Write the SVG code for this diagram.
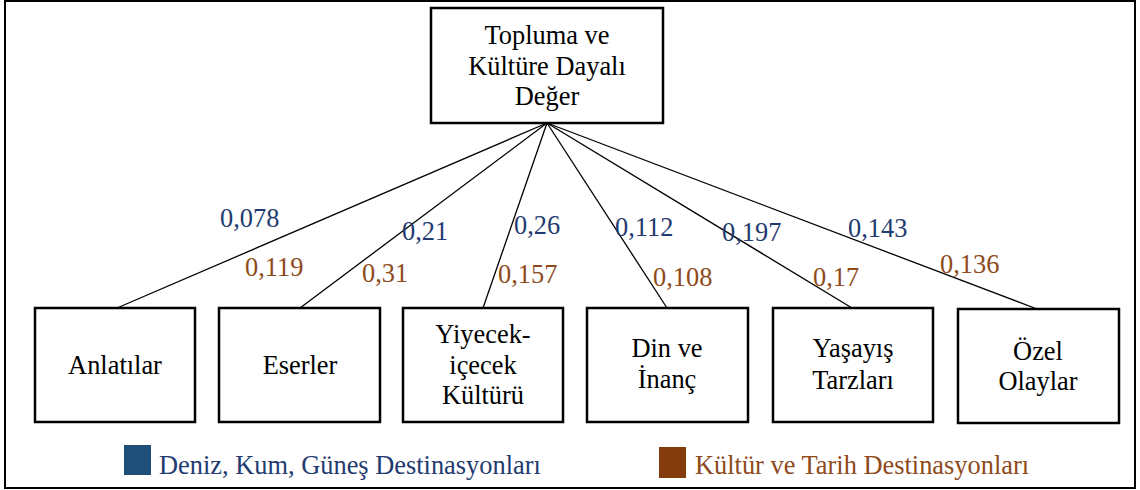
<svg xmlns="http://www.w3.org/2000/svg" width="1140" height="490" viewBox="0 0 1140 490">
  <style>
    .frame { fill: #ffffff; stroke: #000000; stroke-width: 2; }
    .box { fill: #ffffff; stroke: #000000; stroke-width: 2.5; }
    .edge { stroke: #000000; stroke-width: 1.3; fill: none; }
    text { font-family: "Liberation Serif", "Times New Roman", serif; font-size: 26.4px; }
    .node-text { fill: #000000; text-anchor: middle; }
    .w1 { fill: #1F3B70; }
    .w2 { fill: #8E4A1A; }
  </style>

  <!-- outer frame -->
  <rect class="frame" x="5" y="1" width="1130" height="487"/>

  <!-- connectors from the root to each factor -->
  <g id="connectors">
    <line class="edge" x1="547" y1="123" x2="117" y2="308"/>
    <line class="edge" x1="547" y1="123" x2="300" y2="308"/>
    <line class="edge" x1="547" y1="123" x2="483" y2="308"/>
    <line class="edge" x1="547" y1="123" x2="667" y2="308"/>
    <line class="edge" x1="547" y1="123" x2="852" y2="308"/>
    <line class="edge" x1="547" y1="123" x2="1037" y2="309"/>
  </g>

  <!-- weights: first value per edge -->
  <g id="weights-sea-sand-sun">
    <text class="w1" x="220" y="227">0,078</text>
    <text class="w1" x="402" y="240">0,21</text>
    <text class="w1" x="514" y="234">0,26</text>
    <text class="w1" x="615" y="236">0,112</text>
    <text class="w1" x="722" y="241">0,197</text>
    <text class="w1" x="848" y="237">0,143</text>
  </g>
  <!-- weights: second value per edge -->
  <g id="weights-culture-history">
    <text class="w2" x="245" y="276">0,119</text>
    <text class="w2" x="362" y="282">0,31</text>
    <text class="w2" x="498" y="283">0,157</text>
    <text class="w2" x="653" y="286">0,108</text>
    <text class="w2" x="813" y="286">0,17</text>
    <text class="w2" x="940" y="273">0,136</text>
  </g>

  <!-- root node -->
  <g id="node-root">
    <rect class="box" x="431" y="8" width="232" height="115"/>
    <text class="node-text" x="547" y="44">Topluma ve</text>
    <text class="node-text" x="547" y="75">Kültüre Dayalı</text>
    <text class="node-text" x="547" y="105">Değer</text>
  </g>

  <g id="node-anlatilar">
    <rect class="box" x="35" y="308" width="160" height="114"/>
    <text class="node-text" x="115" y="374">Anlatılar</text>
  </g>

  <g id="node-eserler">
    <rect class="box" x="219" y="308" width="161" height="114"/>
    <text class="node-text" x="300" y="374">Eserler</text>
  </g>

  <g id="node-yiyecek">
    <rect class="box" x="403" y="308" width="160" height="114"/>
    <text class="node-text" x="483" y="343">Yiyecek-</text>
    <text class="node-text" x="483" y="374">içecek</text>
    <text class="node-text" x="483" y="404">Kültürü</text>
  </g>

  <g id="node-din">
    <rect class="box" x="587" y="308" width="161" height="114"/>
    <text class="node-text" x="667" y="357">Din ve</text>
    <text class="node-text" x="667" y="388">İnanç</text>
  </g>

  <g id="node-yasayis">
    <rect class="box" x="773" y="308" width="160" height="114"/>
    <text class="node-text" x="853" y="357">Yaşayış</text>
    <text class="node-text" x="853" y="389">Tarzları</text>
  </g>

  <g id="node-ozel">
    <rect class="box" x="958" y="309" width="161" height="114"/>
    <text class="node-text" x="1038" y="360">Özel</text>
    <text class="node-text" x="1038" y="390">Olaylar</text>
  </g>

  <!-- legend -->
  <g id="legend">
    <rect x="124" y="445" width="27" height="30" fill="#1F4E79"/>
    <text class="w1" x="159" y="474">Deniz, Kum, Güneş Destinasyonları</text>
    <rect x="659" y="447" width="27" height="31" fill="#843C0C"/>
    <text class="w2" x="695" y="474">Kültür ve Tarih Destinasyonları</text>
  </g>
</svg>
